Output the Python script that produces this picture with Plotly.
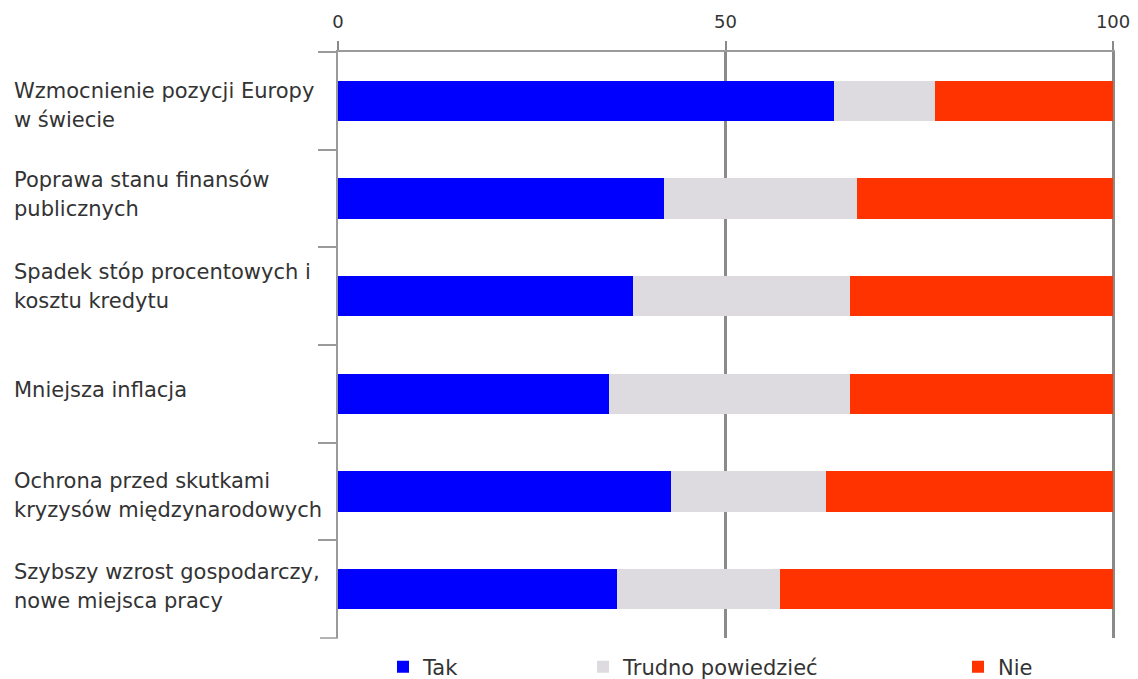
import plotly.graph_objects as go

categories = [
    "Wzmocnienie pozycji Europy\nw świecie",
    "Poprawa stanu finansów\npublicznych",
    "Spadek stóp procentowych i\nkosztu kredytu",
    "Mniejsza inflacja",
    "Ochrona przed skutkami\nkryzysów międzynarodowych",
    "Szybszy wzrost gospodarczy,\nnowe miejsca pracy",
]
series_names = ["Tak", "Trudno powiedzieć", "Nie"]
tak = [64, 42, 38, 35, 43, 36]
trudno = [13, 25, 28, 31, 20, 21]
nie = [23, 33, 34, 34, 37, 43]
x_ticks = [0, 50, 100]

# style: vertical pixel nudges of each category label (positive = down)
label_nudge = [5, -4, -10, -4, 4, -3]

colors = ["#0000FF", "#DDDBDF", "#FF3300"]
FONT = "DejaVu Sans"
TXT = "#333333"
FS = 21

ykeys = [c.replace("\n", " ") for c in categories]

fig = go.Figure()
legends = ["legend", "legend2", "legend3"]
for name, vals, col, lg in zip(series_names, [tak, trudno, nie], colors, legends):
    fig.add_trace(go.Bar(
        y=ykeys, x=vals, name=name, orientation="h",
        marker=dict(color=col, line=dict(width=0)),
        legend=lg, showlegend=True,
    ))

R = 23
PLOT_W = 1138 - 338 - R
for key, cat, nud in zip(ykeys, categories, label_nudge):
    lines = cat.split("\n")
    n = len(lines)
    for i, ln in enumerate(lines):
        shift = -(i - (n - 1) / 2) * 29 - nud
        fig.add_annotation(
            x=-(338 - 12) / PLOT_W, xref="paper", xanchor="left",
            y=key, yref="y", yanchor="middle", yshift=shift,
            text=ln, showarrow=False, align="left",
            font=dict(family=FONT, size=FS, color=TXT),
        )

# bottom boundary tick of the category axis
fig.add_shape(type="line", xref="paper", yref="paper", xsizemode="pixel", xanchor=0,
              x0=-18, x1=0, y0=0, y1=0, line=dict(color="#9a9a9a", width=1.5))

leg_common = dict(orientation="h", yanchor="middle", y=1 - 667 / 679, xanchor="left",
                  xref="container", yref="container",
                  bgcolor="rgba(0,0,0,0)", font=dict(family=FONT, size=FS, color=TXT),
                  itemwidth=30)
lx = [403, 603, 978]
fig.update_layout(
    showlegend=True,
    barmode="stack",
    bargap=0.59,
    width=1138, height=679,
    margin=dict(l=338, r=R, t=52, b=41),
    paper_bgcolor="white", plot_bgcolor="white",
    font=dict(family=FONT, size=FS, color=TXT),
    legend=dict(leg_common, x=(lx[0] - 20) / 1138),
    legend2=dict(leg_common, x=(lx[1] - 20) / 1138),
    legend3=dict(leg_common, x=(lx[2] - 20) / 1138),
    xaxis=dict(
        side="top", range=[0, 100.25], tickvals=x_ticks, ticktext=[str(v) for v in x_ticks],
        showgrid=True, gridcolor="#8a8a8a", gridwidth=2.5, zeroline=False,
        showline=True, linecolor="#9a9a9a", linewidth=2,
        ticks="outside", ticklen=9, tickcolor="#8a8a8a", tickwidth=2,
        ticklabelstandoff=6, automargin=False,
        tickfont=dict(family=FONT, size=18, color=TXT),
    ),
    yaxis=dict(
        autorange="reversed", type="category", tickson="boundaries",
        showticklabels=False, ticks="outside", ticklen=18, tickcolor="#9a9a9a", tickwidth=1.5,
        showline=True, linecolor="#9a9a9a", linewidth=1.5, showgrid=False, automargin=False,
    ),
)

fig.write_html("out.html")
